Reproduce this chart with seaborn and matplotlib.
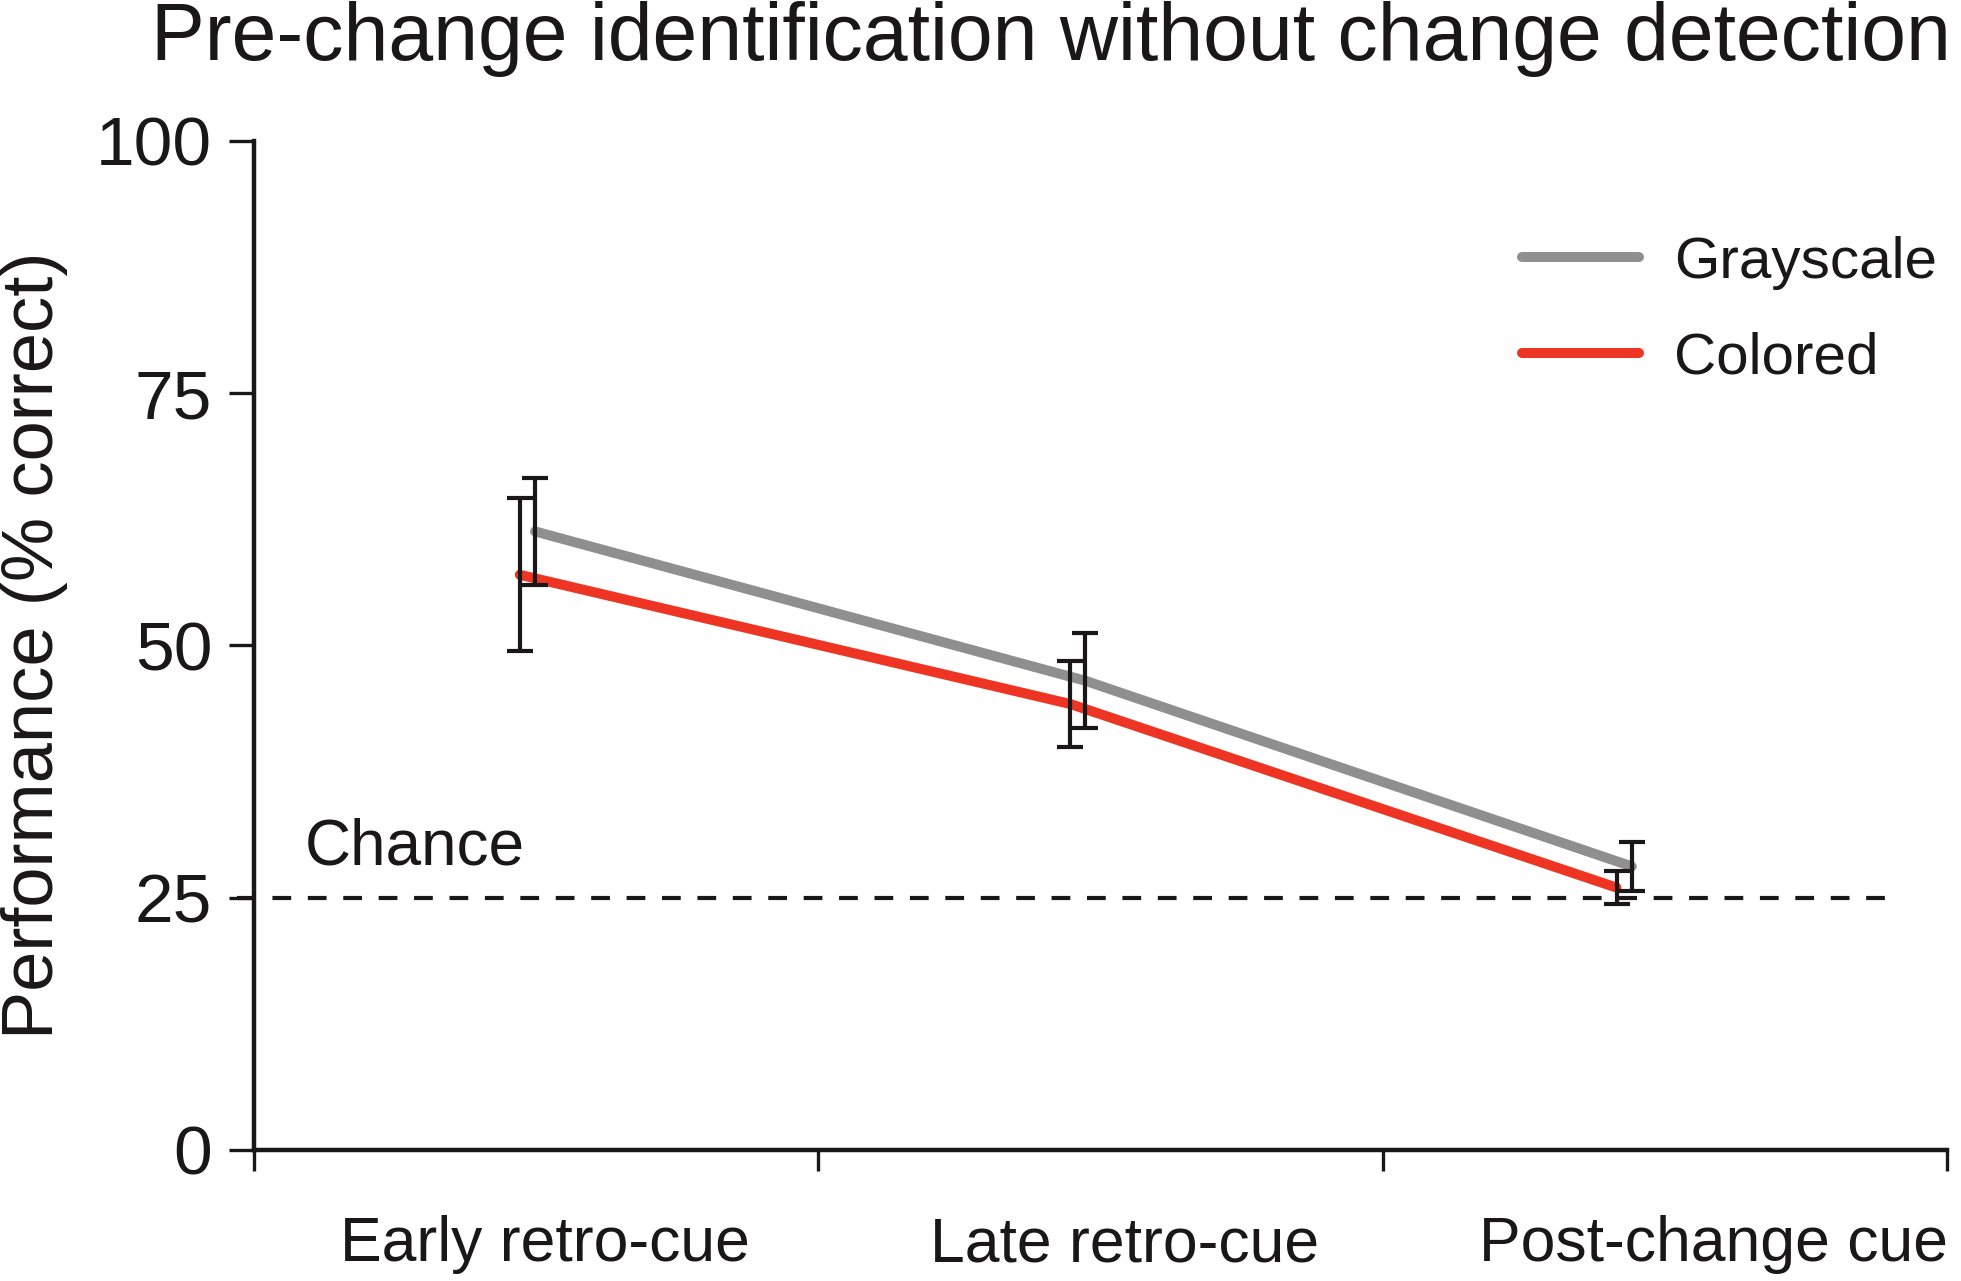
import pandas as pd
import matplotlib
matplotlib.use('Agg')
import matplotlib.pyplot as plt
import seaborn as sns

# data
conditions = ['Early retro-cue', 'Late retro-cue', 'Post-change cue']
series = ['Grayscale', 'Colored']
grayscale_mean = [61.3, 46.5, 28.1]
grayscale_err = [5.3, 4.7, 2.4]
colored_mean = [57.0, 44.2, 26.0]
colored_err = [7.6, 4.3, 1.6]
chance_level = 25

palette = {'Grayscale': '#8f8f8f', 'Colored': '#ee3524'}
cond_pos = [0.485, 1.46, 2.428]
dodge = {'Grayscale': 0.013, 'Colored': -0.014}
label_pos = [0.515, 1.542, 2.586]

rows = []
for name, means, errs in [('Grayscale', grayscale_mean, grayscale_err),
                          ('Colored', colored_mean, colored_err)]:
    for i, c in enumerate(conditions):
        rows.append({'condition': c, 'series': name,
                     'x': cond_pos[i] + dodge[name],
                     'mean': means[i], 'err': errs[i]})
df = pd.DataFrame(rows)

sns.set_style('white')
plt.rcParams['font.family'] = ['Liberation Sans', 'DejaVu Sans']

fig = plt.figure(figsize=(19.61, 12.81), dpi=100)
ax = fig.add_axes([0.1295, 0.1023, 0.8635, 0.7877])

sns.lineplot(data=df, x='x', y='mean', hue='series', hue_order=series,
             palette=palette, linewidth=7.2, ax=ax, sort=True,
             solid_capstyle='round')

for name in series:
    sub = df[df['series'] == name]
    ax.errorbar(sub['x'], sub['mean'], yerr=sub['err'], fmt='none',
                ecolor='#1a1718', elinewidth=3.0, capsize=9.5, capthick=3.0,
                zorder=5)

ax.axhline(chance_level, xmin=-0.01, xmax=0.972, color='#1a1718',
           linestyle=(0, (4.5, 4)), linewidth=3.0, clip_on=False, zorder=1)
ax.text(0.09, chance_level + 2.0, 'Chance', fontsize=46, color='#1a1718',
        ha='left', va='bottom')

ax.set_xlim(0, 3)
ax.set_ylim(0, 100)
ax.set_xticks([0, 1, 2, 3])
ax.set_xticklabels([])
ax.set_xticks(label_pos, minor=True)
ax.set_xticklabels(conditions, minor=True, fontsize=45, color='#1a1718')
ax.tick_params(axis='x', which='major', direction='out', length=15,
               width=2.4, color='#1a1718', bottom=True)
ax.tick_params(axis='x', which='minor', length=0, pad=47)
ax.set_yticks([0, 25, 50, 75, 100])
ax.tick_params(axis='y', direction='out', length=18, width=2.4,
               color='#1a1718', labelcolor='#1a1718', labelsize=50,
               left=True, pad=12)

for s in ['top', 'right']:
    ax.spines[s].set_visible(False)
for s in ['left', 'bottom']:
    ax.spines[s].set_linewidth(3.2)
    ax.spines[s].set_color('#1a1718')

ax.set_xlabel('')
ax.set_ylabel('Performance (% correct)', fontsize=52, labelpad=20,
              color='#1a1718')

handles, labels = ax.get_legend_handles_labels()
for h in handles:
    h.set_solid_capstyle('round')
leg = ax.legend(handles, labels, loc='upper right',
                bbox_to_anchor=(1.025, 0.958), frameon=False, fontsize=42,
                handlelength=2.0, handletextpad=0.6, labelspacing=0.72)
for t in leg.get_texts():
    t.set_color('#1a1718')

fig.text(0.536, 0.999, 'Pre-change identification without change detection',
         fontsize=58, ha='center', va='top', color='#1a1718')

plt.savefig('out.png', dpi=100)
plt.close(fig)
